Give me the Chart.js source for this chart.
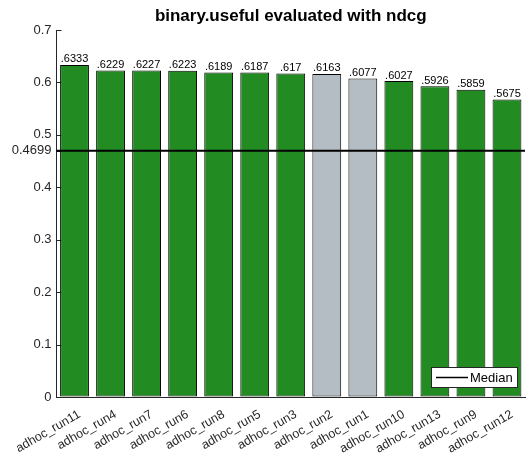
<!DOCTYPE html>
<html>
<head>
<meta charset="utf-8">
<script src="https://cdn.jsdelivr.net/npm/chart.js@4/dist/chart.umd.min.js"></script>
<style>
  html, body { margin: 0; padding: 0; background: #fff; }
  #wrap { width: 526px; height: 460px; position: relative; }
</style>
</head>
<body>
<div id="wrap"><canvas id="ndcgChart"></canvas></div>
<script>
/* binary.useful evaluated with ndcg */

const runs = ['adhoc_run11', 'adhoc_run4', 'adhoc_run7', 'adhoc_run6', 'adhoc_run8', 'adhoc_run5',
  'adhoc_run3', 'adhoc_run2', 'adhoc_run1', 'adhoc_run10', 'adhoc_run13', 'adhoc_run9', 'adhoc_run12'];
const scores = [0.6333, 0.6229, 0.6227, 0.6223, 0.6189, 0.6187, 0.617, 0.6163, 0.6077, 0.6027, 0.5926, 0.5859, 0.5675];
const baselineRuns = ['adhoc_run2', 'adhoc_run1'];
const median = 0.4699;
const yTicks = [0, 0.1, 0.2, 0.3, 0.4, 0.5, 0.6, 0.7, median];

const AXIS = '#262626';
const FONT = 'Arial, "Liberation Sans", Helvetica, sans-serif';

const barColors = runs.map(r => baselineRuns.includes(r) ? '#b3bdc3' : '#228b22');
const fmtVal = v => String(v).replace(/^0/, '');

const extras = {
  id: 'extras',
  beforeDatasetsDraw(chart) {
    const { ctx, chartArea, scales: { y } } = chart;
    ctx.save();
    ctx.strokeStyle = AXIS;
    ctx.lineWidth = 1;
    yTicks.forEach(t => {
      const py = Math.round(y.getPixelForValue(t)) + 0.5;
      ctx.beginPath();
      ctx.moveTo(chartArea.left, py);
      ctx.lineTo(chartArea.left + 5, py);
      ctx.stroke();
    });
    ctx.restore();
  },
  afterDatasetsDraw(chart) {
    const { ctx, chartArea, scales: { y } } = chart;
    const meta = chart.getDatasetMeta(0);
    ctx.save();

    // value labels
    ctx.fillStyle = '#000';
    ctx.font = '11px ' + FONT;
    ctx.textAlign = 'center';
    ctx.textBaseline = 'alphabetic';
    meta.data.forEach((bar, i) => {
      ctx.fillText(fmtVal(scores[i]), bar.x, bar.y - 2.5);
    });

    // median line
    const my = y.getPixelForValue(median);
    ctx.strokeStyle = '#000';
    ctx.lineWidth = 2;
    ctx.beginPath();
    ctx.moveTo(chartArea.left, my);
    ctx.lineTo(chartArea.right, my);
    ctx.stroke();

    // title
    ctx.font = 'bold 17px ' + FONT;
    ctx.fillStyle = '#000';
    ctx.textAlign = 'center';
    ctx.fillText('binary.useful evaluated with ndcg', (chartArea.left + chartArea.right) / 2, 21);

    // legend
    const bw = 86, bh = 20;
    const bx = chartArea.right - 8 - bw;
    const by = chartArea.bottom - 10 - bh;
    ctx.fillStyle = '#fff';
    ctx.fillRect(bx, by, bw, bh);
    ctx.strokeStyle = AXIS;
    ctx.lineWidth = 1;
    ctx.strokeRect(bx + 0.5, by + 0.5, bw, bh);
    ctx.strokeStyle = '#000';
    ctx.lineWidth = 1.5;
    ctx.beginPath();
    ctx.moveTo(bx + 5, by + bh / 2 + 0.5);
    ctx.lineTo(bx + 37, by + bh / 2 + 0.5);
    ctx.stroke();
    ctx.fillStyle = '#000';
    ctx.font = '13px ' + FONT;
    ctx.textAlign = 'left';
    ctx.textBaseline = 'middle';
    ctx.fillText('Median', bx + 39, by + bh / 2 + 1);
    ctx.restore();
  }
};

new Chart(document.getElementById('ndcgChart'), {
  type: 'bar',
  data: {
    labels: runs,
    datasets: [{
      data: scores,
      backgroundColor: barColors,
      borderColor: '#000',
      borderWidth: 1,
      borderSkipped: false,
      barPercentage: 0.8,
      categoryPercentage: 1.0
    }]
  },
  options: {
    responsive: true,
    maintainAspectRatio: false,
    animation: false,
    layout: { padding: { top: 30, right: 1, left: 0, bottom: 0 } },
    plugins: {
      legend: { display: false },
      title: { display: false },
      tooltip: { enabled: false }
    },
    scales: {
      x: {
        grid: { display: true, drawOnChartArea: false, drawTicks: false },
        border: { display: true, color: AXIS, width: 1 },
        ticks: {
          color: AXIS,
          font: { size: 12.5, family: FONT },
          minRotation: 30,
          maxRotation: 30,
          autoSkip: false,
          padding: 10,
          labelOffset: 5
        },
        afterFit: s => { s.height = 63; }
      },
      y: {
        min: 0,
        max: 0.7,
        grid: { display: true, drawOnChartArea: false, drawTicks: false },
        border: { display: true, color: AXIS, width: 1 },
        ticks: {
          color: AXIS,
          font: { size: 13, family: FONT },
          autoSkip: false,
          padding: 5,
          callback: v => String(+Number(v).toFixed(4))
        },
        afterBuildTicks: s => { s.ticks = yTicks.map(v => ({ value: v })); },
        afterFit: s => { s.width = 55; }
      }
    }
  },
  plugins: [extras]
});
</script>
</body>
</html>
